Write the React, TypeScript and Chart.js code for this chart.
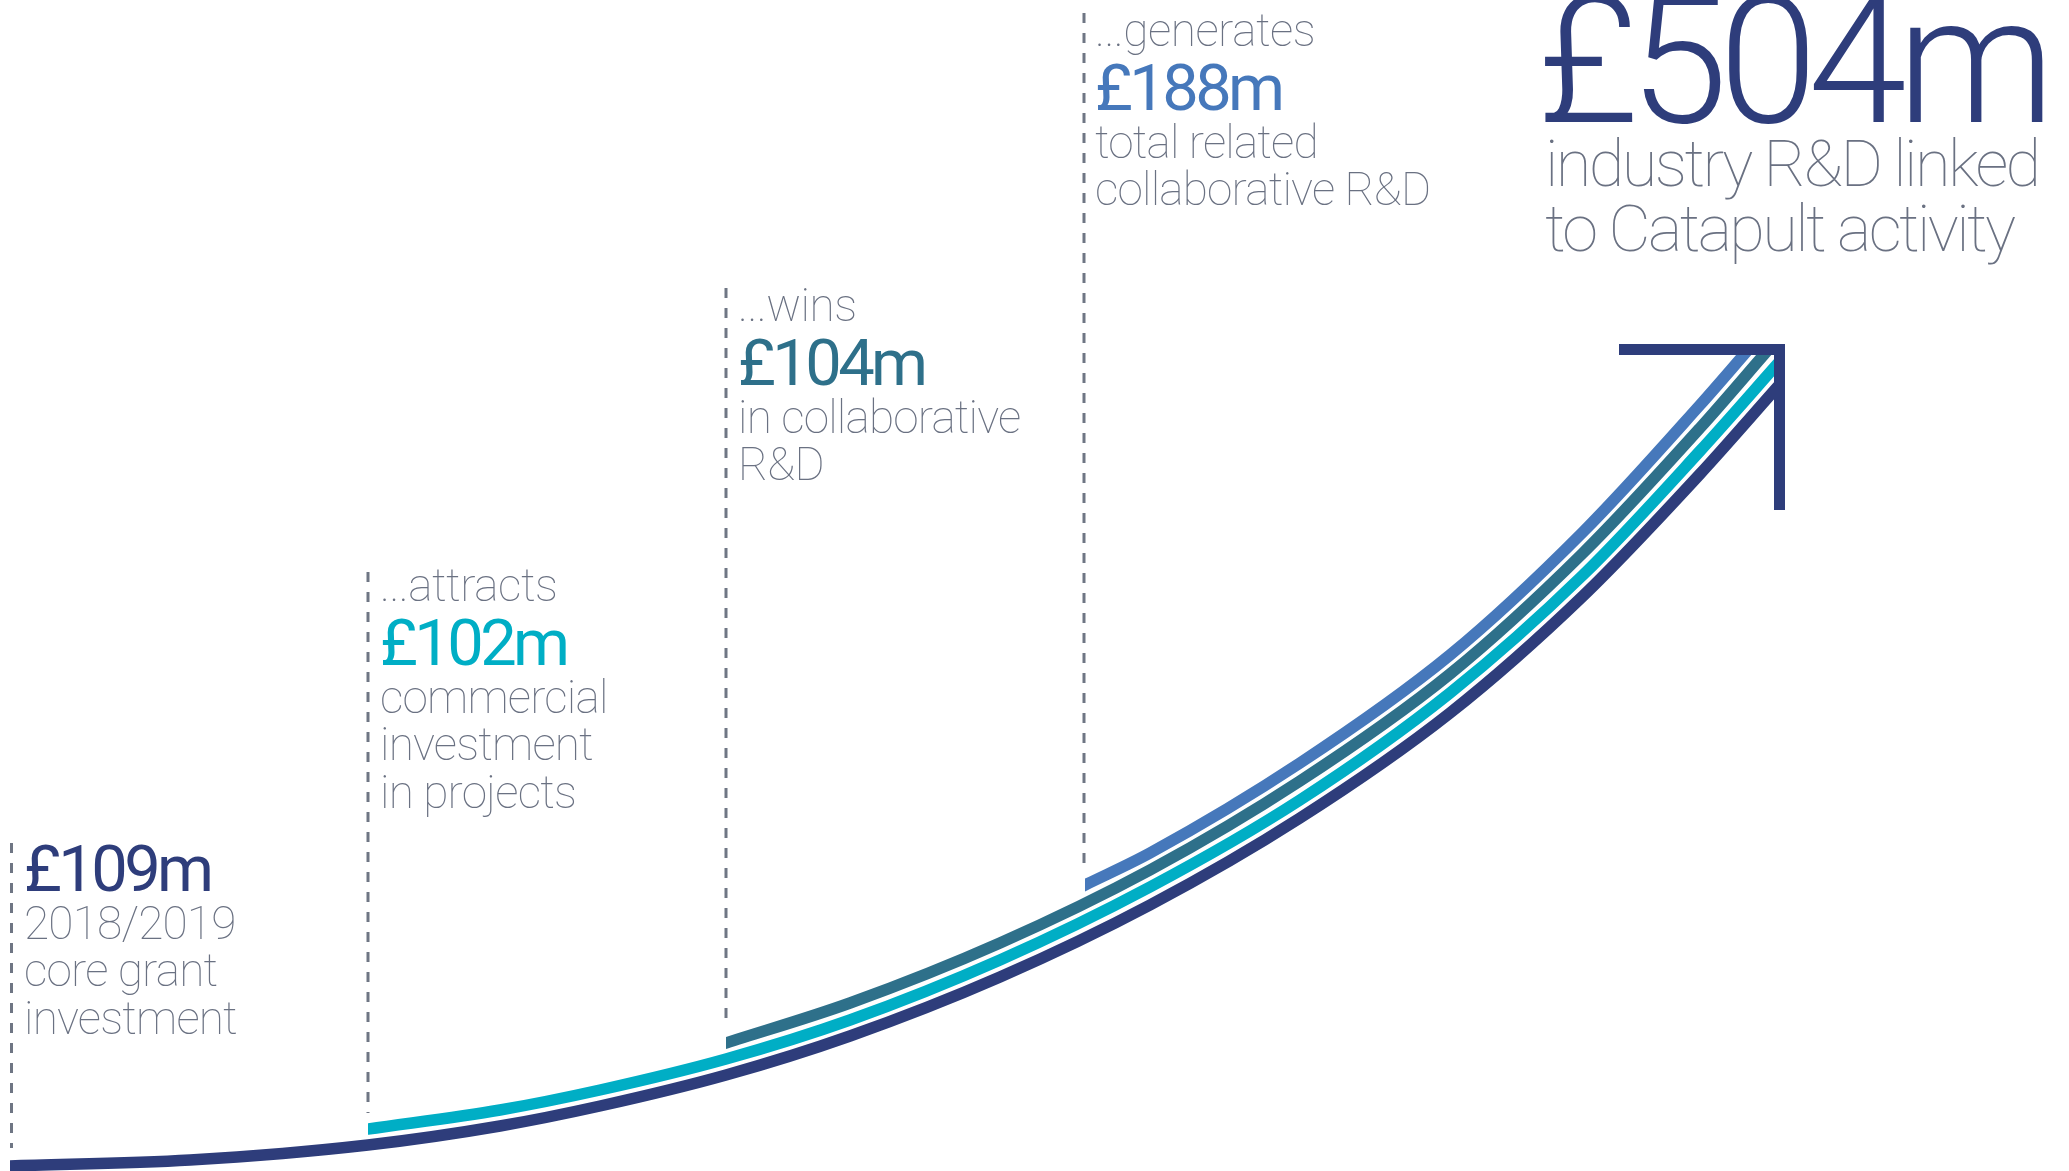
import React, { useEffect, useRef } from 'react';
import { Chart, registerables } from 'chart.js';

Chart.register(...registerables);

const W = 2069;
const H = 1171;

// ---- Data (x position, height above the bottom edge) ----
const coreGrantX = [10, 190, 368, 500, 600, 726, 850, 1000, 1150, 1300, 1450, 1583, 1700, 1780];
const coreGrantY = [5, 11, 26, 45, 65, 96, 135, 194, 266, 353, 458, 575, 697, 787];

const commercialX = [368, 500, 600, 726, 850, 1000, 1150, 1300, 1450, 1583, 1700, 1780];
const commercialY = [42, 61, 81, 112, 151, 211, 284, 371, 478, 596, 720, 810];

const collabX = [726, 850, 1000, 1150, 1300, 1450, 1583, 1700, 1768];
const collabY = [128, 168, 228, 301, 390, 497, 618, 743, 821];

const relatedX = [1085, 1150, 1300, 1450, 1583, 1700, 1748];
const relatedY = [286, 318, 408, 516, 639, 766, 821];

const arrowX = [1619, 1779.5, 1779.5];
const arrowY = [821.5, 821.5, 661];

const markerX = [11.5, 368, 726, 1084];
const markerTop = [328, 599, 883, 1158];
const markerBottom = [23, 58, 149, 304];

// ---- Text ----
const leads = ['', '...attracts', '...wins', '...generates'];
const values = ['£109m', '£102m', '£104m', '£188m'];
const descriptions = [
  ['2018/2019', 'core grant', 'investment'],
  ['commercial', 'investment', 'in projects'],
  ['in collaborative', 'R&D'],
  ['total related', 'collaborative R&D'],
];
const totalValue = '£504m';
const totalDescription = ['industry R&D linked', 'to Catapult activity'];

// ---- Styles / layout ----
const NAVY = '#2e3d7b';
const CYAN = '#00aec5';
const TEAL = '#2e708a';
const BLUE = '#4678bb';
const GREY_TEXT = '#6a7182';
const GREY_DASH = '#6f7684';
const valueColors = [NAVY, CYAN, TEAL, BLUE];

const blockLeft = [24, 380, 738, 1095];
const blockValueBaseline = [891, 665, 385, 110];
const LEAD_GAP = 64;
const DESC_FIRST = 48;
const DESC_STEP = 47.5;
const VALUE_SIZE = 65;
const DESC_SIZE = 46;
const BAND_WIDTH = 11.5;

const FONT = "Roboto, 'Noto Sans', sans-serif";

function TextLine(props: { x: number; baseline: number; size: number; weight: number; color: string; spacing: string; text: string }) {
  const { x, baseline, size, weight, color, spacing, text } = props;
  const lh = size * 1.2;
  const top = baseline - ((lh - 1.1719 * size) / 2 + 0.9277 * size);
  return (
    <div
      style={{
        position: 'absolute',
        left: x,
        top,
        fontFamily: FONT,
        fontSize: size,
        lineHeight: `${lh}px`,
        fontWeight: weight,
        color,
        letterSpacing: spacing,
        whiteSpace: 'nowrap',
      }}
    >
      {text}
    </div>
  );
}

const ARROW_WIDTH = 11;

const bandClip = {
  id: 'bandClip',
  beforeDatasetDraw(chart: any, args: any) {
    const ds = chart.data.datasets[args.index];
    if (!ds.band) return;
    const { ctx } = chart;
    const xs = chart.scales.x;
    const ys = chart.scales.y;
    const x0 = xs.getPixelForValue(ds.data[0].x);
    const x1 = xs.getPixelForValue(arrowX[1]) + ARROW_WIDTH / 2;
    const y0 = ys.getPixelForValue(arrowY[0]) - ARROW_WIDTH / 2;
    ctx.save();
    ctx.beginPath();
    ctx.rect(x0, y0, x1 - x0, chart.height - y0);
    ctx.clip();
  },
  afterDatasetDraw(chart: any, args: any) {
    const ds = chart.data.datasets[args.index];
    if (!ds.band) return;
    chart.ctx.restore();
  },
};

export default function App() {
  const ref = useRef<HTMLCanvasElement>(null);

  useEffect(() => {
    const canvas = ref.current!;
    const band = (xs: number[], ys: number[], color: string, label: string) => ({
      label,
      data: xs.map((x, i) => ({ x, y: ys[i] })),
      borderColor: color,
      borderWidth: BAND_WIDTH,
      borderCapStyle: 'square',
      cubicInterpolationMode: 'monotone',
      pointRadius: 0,
      fill: false,
      order: 1,
      band: true,
    });
    const markers = markerX.map((x, i) => ({
      label: 'marker' + i,
      data: [
        { x, y: markerTop[i] },
        { x, y: markerBottom[i] },
      ],
      borderColor: GREY_DASH,
      borderWidth: 3,
      borderDash: [10, 10],
      borderCapStyle: 'butt',
      pointRadius: 0,
      fill: false,
      tension: 0,
      order: 2,
    }));
    const datasets: any[] = [
      {
        label: 'arrow',
        data: arrowX.map((x, i) => ({ x, y: arrowY[i] })),
        borderColor: NAVY,
        borderWidth: ARROW_WIDTH,
        borderJoinStyle: 'miter',
        borderCapStyle: 'butt',
        pointRadius: 0,
        fill: false,
        tension: 0,
        order: 0,
      },
      band(coreGrantX, coreGrantY, NAVY, 'core grant'),
      band(commercialX, commercialY, CYAN, 'commercial'),
      band(collabX, collabY, TEAL, 'collaborative'),
      band(relatedX, relatedY, BLUE, 'related'),
      ...markers,
    ];
    const chart = new Chart(canvas, {
      type: 'line',
      data: { datasets },
      options: {
        responsive: false,
        animation: false,
        devicePixelRatio: 1,
        events: [],
        layout: { padding: 0 },
        plugins: { legend: { display: false }, tooltip: { enabled: false } },
        scales: {
          x: { type: 'linear', min: 0, max: W, display: false },
          y: { type: 'linear', min: 0, max: H, display: false },
        },
      } as any,
      plugins: [bandClip as any],
    });
    return () => chart.destroy();
  }, []);

  const texts: React.ReactNode[] = [];
  values.forEach((v, i) => {
    const x = blockLeft[i];
    const vb = blockValueBaseline[i];
    if (leads[i]) {
      texts.push(<TextLine key={'l' + i} x={x} baseline={vb - LEAD_GAP} size={DESC_SIZE} weight={100} color={GREY_TEXT} spacing="-0.01em" text={leads[i]} />);
    }
    texts.push(<TextLine key={'v' + i} x={x} baseline={vb} size={VALUE_SIZE} weight={400} color={valueColors[i]} spacing="-0.055em" text={v} />);
    descriptions[i].forEach((d, j) => {
      texts.push(<TextLine key={'d' + i + '-' + j} x={x} baseline={vb + DESC_FIRST + j * DESC_STEP} size={DESC_SIZE} weight={100} color={GREY_TEXT} spacing="-0.018em" text={d} />);
    });
  });
  texts.push(<TextLine key="tv" x={1537} baseline={123} size={178} weight={300} color={NAVY} spacing="-0.053em" text={totalValue} />);
  totalDescription.forEach((d, j) => {
    texts.push(<TextLine key={'td' + j} x={1545} baseline={186 + j * 65} size={65} weight={100} color={GREY_TEXT} spacing="-0.04em" text={d} />);
  });

  return (
    <div style={{ position: 'absolute', left: 0, top: 0, width: W, height: H, background: '#fff', overflow: 'hidden' }}>
      <canvas ref={ref} width={W} height={H} style={{ position: 'absolute', left: 0, top: 0, width: W, height: H }} />
      {texts}
    </div>
  );
}
